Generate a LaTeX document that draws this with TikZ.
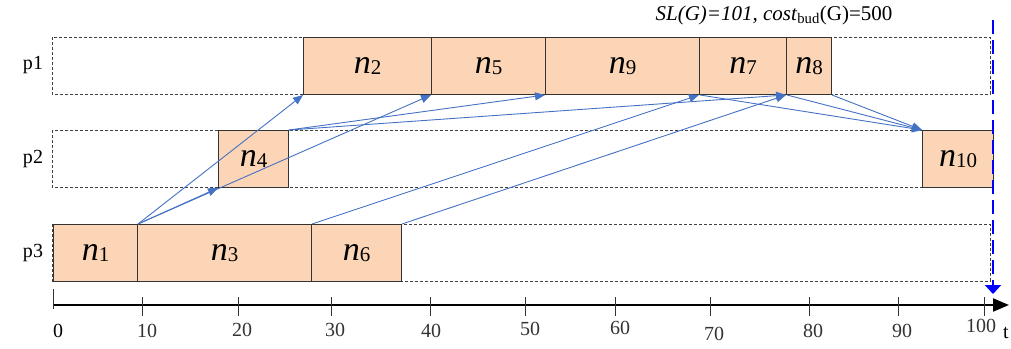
\documentclass[tikz,border=0pt]{standalone}
\usepackage{fontspec}
\setmainfont{Liberation Serif}
\usetikzlibrary{arrows.meta}
\definecolor{taskfill}{HTML}{FBD5B5}
\definecolor{edgeblue}{HTML}{4472C4}
\newcommand{\tsk}[1]{{\fontsize{34}{34}\selectfont\itshape n}\raisebox{-1.5pt}{\fontsize{21}{21}\selectfont #1}}
\begin{document}
\begin{tikzpicture}[x=1pt,y=-1pt,>=stealth,font=\fontsize{20}{20}\selectfont,
  lane/.style={draw=black!75,line width=0.8pt,dash pattern=on 3pt off 2pt},
  task/.style={draw=black!80,fill=taskfill,line width=1pt,inner sep=0pt,anchor=north west,minimum height=57pt},
  dep/.style={edgeblue,line width=0.9pt,-{Triangle[length=10pt,width=8pt]}}]
\useasboundingbox (0,0) rectangle (1011,348);

% processors
\draw[lane](52,37)rectangle(990,94);
\draw[lane](52,130)rectangle(993,187);
\draw[lane](52,224)rectangle(990,281);
\node (p1) at (33,65) {p1};
\node (p2) at (33,159) {p2};
\node (p3) at (33,253) {p3};

% tasks
\node[task,minimum width=128pt] (n2) at (303,37) {\tsk{2}};
\node[task,minimum width=114pt] (n5) at (431,37) {\tsk{5}};
\node[task,minimum width=154pt] (n9) at (545,37) {\tsk{9}};
\node[task,minimum width=87pt] (n7) at (699,37) {\tsk{7}};
\node[task,minimum width=45pt] (n8) at (786,37) {\tsk{8}};
\node[task,minimum width=70pt] (n4) at (218,130) {\tsk{4}};
\node[task,minimum width=71pt] (n10) at (922,130) {\tsk{10}};
\node[task,minimum width=84pt] (n1) at (53,224) {\tsk{1}};
\node[task,minimum width=174pt] (n3) at (137,224) {\tsk{3}};
\node[task,minimum width=90pt] (n6) at (311,224) {\tsk{6}};

% dependencies
\draw[dep](n1.north east)--(n2.south west);
\draw[dep](n1.north east)--(n4.south west);
\draw[dep](n1.north east)--(n5.south west);
\draw[dep](n4.north east)--(n9.south west);
\draw[dep](n4.north east)--(n8.south west);
\draw[dep](n3.north east)--(n7.south west);
\draw[dep](n6.north east)--(n8.south west);
\draw[dep](n9.south east)--(n10.north west);
\draw[dep](n7.south east)--(n10.north west);
\draw[dep](n8.south east)--(n10.north west);

% time axis
\coordinate (origin) at (53,305);
\coordinate (tend) at (1009,305);
\draw[line width=2pt,-{Triangle[length=16pt,width=13pt]}](origin)--(tend);
\draw[line width=1pt,black!80](53,289)--(53,309);
\node (l0) at (58,331) {0};
\foreach \x/\lx/\ly/\v in {142/147/331/10,238/242/330/20,331/335/330/30,430/431/331/40,525/530/329/50,615/620/328/60,710/714/334/70,809/813/331/80,898/902/331/90,984/981/326/100}
  \draw[line width=1pt,black!80](\x,297)--(\x,316)(\lx,\ly)node{\v};
\node (tlab) at (1006,333) {t};

% makespan
\coordinate (dtop) at (993,20);
\coordinate (dbot) at (993,294);
\draw[blue,line width=2.5pt,dash pattern=on 14pt off 6pt,-{Triangle[length=9pt,width=16pt]}](dtop)--(dbot);
\node[font=\fontsize{21}{21}\selectfont] (sl) at (774,15) {\textit{SL(G)=101, cost}\textsubscript{bud}(G)=500};
\end{tikzpicture}
\end{document}
